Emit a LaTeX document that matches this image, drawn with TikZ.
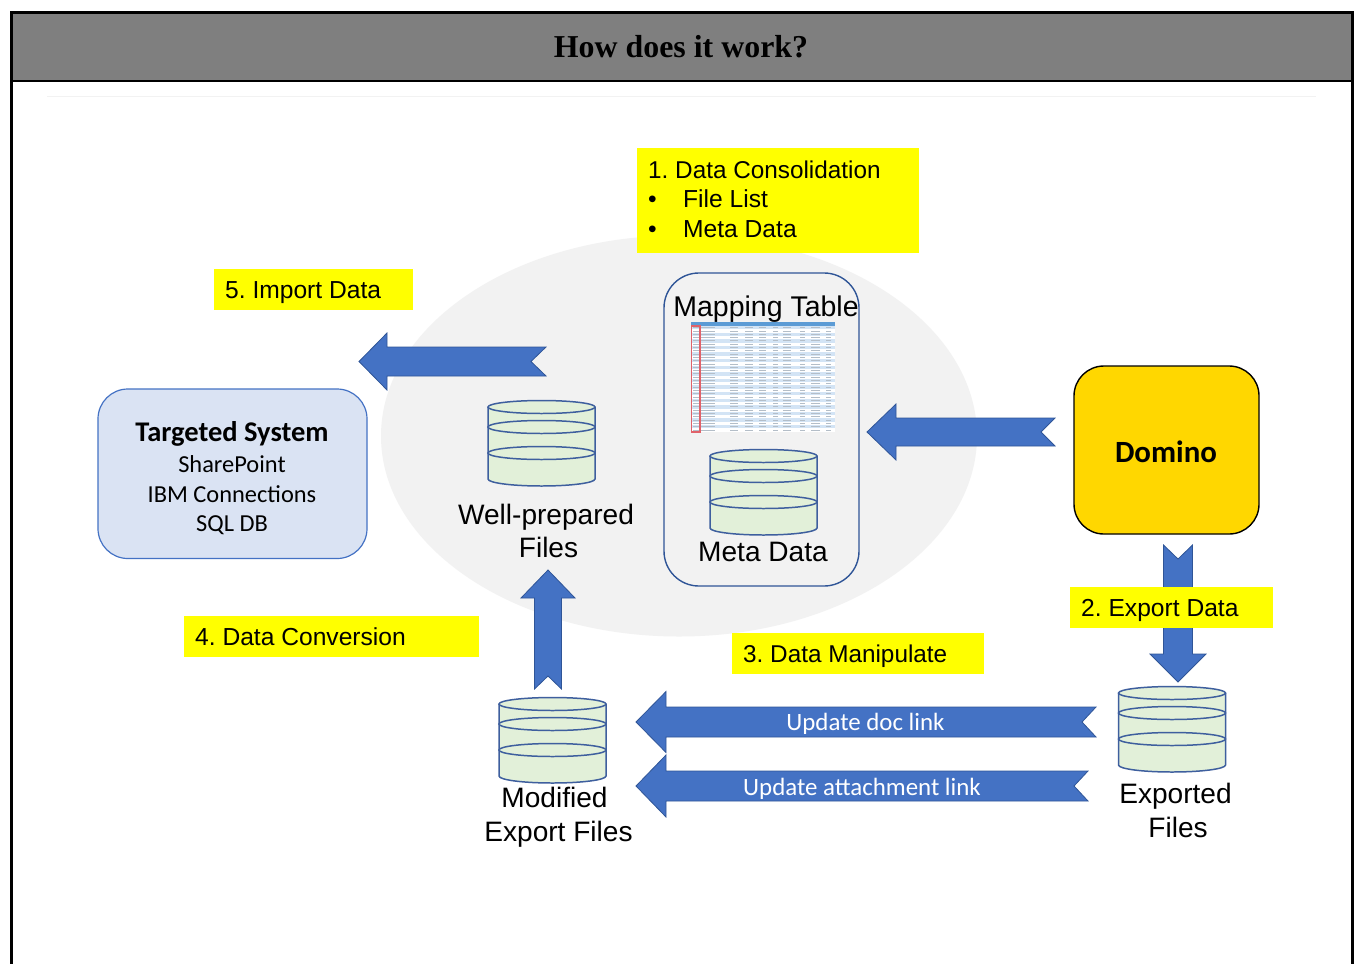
\documentclass[tikz,border=0pt]{standalone}
\usepackage{fontspec}
\setmainfont{Liberation Sans}
\newfontfamily\carlito{Carlito}
\newfontfamily\tnr{Liberation Serif}
\definecolor{ablue}{HTML}{4472C4}
\definecolor{dblue}{HTML}{2F5597}
\definecolor{cylfill}{HTML}{E2F0D9}
\definecolor{cylline}{HTML}{3E5F9E}
\definecolor{ygold}{HTML}{FFD700}
\definecolor{lblue}{HTML}{DAE3F3}
\definecolor{pureyellow}{RGB}{255,255,0}
\definecolor{headgray}{HTML}{7F7F7F}
\definecolor{ellgray}{HTML}{F2F2F2}
\definecolor{stripe}{HTML}{D3E4F5}
\definecolor{tabhead}{HTML}{5B9BD5}
\definecolor{tabred}{HTML}{E0626A}
\definecolor{tabtext}{HTML}{B4BEC8}
\tikzset{
  yellowbox/.style={fill=pureyellow,draw=none,inner sep=0pt,anchor=north west},
  yellowtext/.style={anchor=base west,font=\fontsize{24.7}{29.5}\selectfont,inner sep=0pt},
  yellowtight/.style={anchor=base west,font=\fontsize{24.4}{29.5}\selectfont,inner sep=0pt},
  cyltext/.style={font=\fontsize{28.2}{34}\selectfont,anchor=base,inner sep=0pt},
  bluearrow/.style={fill=ablue,draw=dblue,line width=0.8},
  cyl/.style={draw=cylline,line width=1.5},
  arrowtext/.style={text=white,font=\carlito\fontsize{25}{28}\selectfont,inner sep=0pt},
  targettext/.style={font=\carlito\fontsize{24.5}{29.5}\selectfont,anchor=base,inner sep=0pt}
}
% horizontal left-pointing arrow: name, tip x, head base x, tail x, notch x, y, body half, head half
\newcommand{\larrow}[8]{%
  \coordinate (#1-tip) at (#2,#6);
  \coordinate (#1-tail) at (#5,#6);
  \draw[bluearrow] (#1-tip) -- (#3,#6-#8) -- (#3,#6-#7) -- (#4,#6-#7) -- (#1-tail) -- (#4,#6+#7) -- (#3,#6+#7) -- (#3,#6+#8) -- cycle;}
% vertical arrow: name, x, tip y, head base y, tail y, notch y, body half, head half
\newcommand{\varrow}[8]{%
  \coordinate (#1-tip) at (#2,#3);
  \coordinate (#1-tail) at (#2,#6);
  \draw[bluearrow] (#1-tip) -- (#2-#8,#4) -- (#2-#7,#4) -- (#2-#7,#5) -- (#1-tail) -- (#2+#7,#5) -- (#2+#7,#4) -- (#2+#8,#4) -- cycle;}
% cylinder: left x, top-ellipse centre y
\newcommand{\cylinder}[2]{%
  \begin{scope}[shift={(#1,#2)}]
  \fill[cylfill] (0,0) -- (0,72) arc[start angle=180,end angle=0,x radius=53.5,y radius=7] -- (107,0) arc[start angle=0,end angle=-180,x radius=53.5,y radius=6.5] -- cycle;
  \draw[cyl] (0,0) -- (0,72) arc[start angle=180,end angle=0,x radius=53.5,y radius=7] -- (107,0);
  \draw[cyl] (53.5,0) ellipse[x radius=53.5,y radius=6.5];
  \draw[cyl] (53.5,20) ellipse[x radius=53.5,y radius=6.5];
  \draw[cyl] (53.5,46) ellipse[x radius=53.5,y radius=6.5];
  \end{scope}}
\begin{document}
\frenchspacing
\begin{tikzpicture}[x=1bp,y=-1bp]
\useasboundingbox (0,0) rectangle (1354,964);
\fill[white] (0,0) rectangle (1354,964);
% header and frame
\draw[black!5,line width=0.8] (47,96.5) -- (1316,96.5);
\draw[black,line width=2.6,fill=headgray] (11.5,12.5) rectangle (1352.5,81);
\draw[black,line width=2.6] (11.5,81) -- (11.5,964);
\draw[black,line width=2.6] (1352.5,81) -- (1352.5,964);
\node[font=\tnr\bfseries\fontsize{32}{36}\selectfont,inner sep=0pt] (title) at (681,47) {How does it work?};
% ellipse
\fill[ellgray] (679,436) ellipse[x radius=298,y radius=200.5];
% yellow labels
\node[yellowbox,minimum width=282bp,minimum height=105bp] (l1box) at (637,148) {};
\node[yellowtight] (l1a) at (648,178.5) {1. Data Consolidation};
\node[yellowtext] (l1d1) at (648,207.5) {•};
\node[yellowtext] (l1b) at (683,207.5) {File List};
\node[yellowtext] (l1d2) at (648,237.5) {•};
\node[yellowtext] (l1c) at (683,237.5) {Meta Data};
\node[yellowbox,minimum width=199bp,minimum height=41bp] (l5box) at (214,269) {};
\node[yellowtext] (l5) at (225,298.5) {5. Import Data};
% arrows
\larrow{imp}{359}{387}{546}{531}{361.5}{14.5}{28.5}
\larrow{map}{867}{896}{1055}{1041}{432}{14}{28}
\varrow{exp}{1178}{682}{654}{545}{559}{14.5}{28}
\varrow{conv}{548}{570}{598}{689}{676}{13.5}{27}
\larrow{doc}{636}{666}{1096}{1082}{722}{15}{30.5}
\larrow{att}{636}{666}{1088}{1074}{786}{15}{31}
% yellow labels over arrows
\node[yellowbox,minimum width=203bp,minimum height=41bp] (l2box) at (1070,587) {};
\node[yellowtext] (l2) at (1081,616.5) {2. Export Data};
\node[yellowbox,minimum width=252bp,minimum height=41bp] (l3box) at (732,633) {};
\node[yellowtight] (l3) at (743,662.5) {3. Data Manipulate};
\node[yellowbox,minimum width=295bp,minimum height=41bp] (l4box) at (184,616) {};
\node[yellowtext] (l4) at (195,645.5) {4. Data Conversion};
% arrow texts
\node[arrowtext,anchor=base] (doctxt) at (865.5,730.5) {Update doc link};
\node[arrowtext,anchor=base] (atttxt) at (862,795.5) {Update attachment link};
% boxes
\draw[ablue,fill=lblue,line width=1.2,rounded corners=30] (98,389) rectangle (367,558.5);
\node[targettext,font=\carlito\bfseries\fontsize{28.6}{30}\selectfont] (target) at (232,441) {Targeted System};
\node[targettext] (t1) at (232,472) {SharePoint};
\node[targettext] (t2) at (232,502) {IBM Connections};
\node[targettext] (t3) at (232,531) {SQL DB};
\draw[dblue,line width=1.4,rounded corners=35] (664,273) rectangle (859,586);
\draw[black,line width=1.4,fill=ygold,rounded corners=30] (1074,366) rectangle (1259,534);
\node[font=\carlito\bfseries\fontsize{31}{34}\selectfont,inner sep=0pt] (domino) at (1166,452) {Domino};
% mapping table picture
\node[font=\fontsize{28.6}{32}\selectfont,inner sep=0pt,anchor=base] (maptitle) at (766,316) {Mapping Table};
\fill[white] (691,322) rectangle (835,432);
\foreach \r in {0,...,15}{
  \pgfmathsetmacro{\yy}{326+\r*6.6}
  \fill[stripe] (691,\yy) rectangle (835,\yy+3.3);
}
\foreach \r in {0,...,31}{
  \pgfmathsetmacro{\yy}{326+\r*3.3}
  \foreach \cx/\cw in {693/6,701/14,730/8,745/8,759/7,773/5,783/8,800/5,811/9,826/5}{
    \fill[tabtext] (\cx,\yy+1.2) rectangle (\cx+\cw,\yy+2.1);
  }
}
\fill[tabhead] (691,321.5) rectangle (835,325.5);
\draw[tabred,line width=1.3] (691.5,326) rectangle (700,432);
% cylinders
\cylinder{488}{407}
\cylinder{710}{456}
\cylinder{499}{704}
\cylinder{1118.5}{693}
\node[cyltext] (wp1) at (546,524) {Well-prepared};
\node[cyltext] (wp2) at (548.5,557) {Files};
\node[cyltext] (meta) at (763,561) {Meta Data};
\node[cyltext] (mod1) at (554.5,807) {Modified};
\node[cyltext] (mod2) at (558.5,841) {Export Files};
\node[cyltext] (exp1) at (1175.5,803.5) {Exported};
\node[cyltext] (exp2) at (1178,837.5) {Files};
\end{tikzpicture}
\end{document}
